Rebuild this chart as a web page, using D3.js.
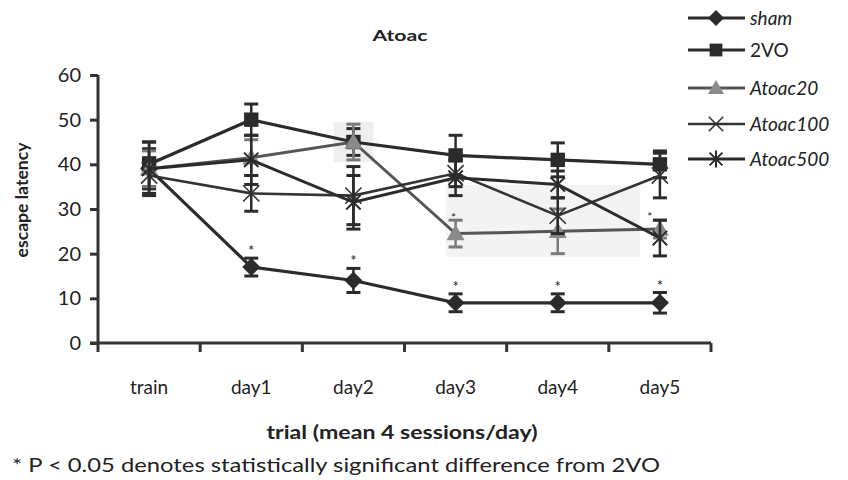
<!DOCTYPE html>
<html>
<head>
<meta charset="utf-8">
<script src="https://cdn.jsdelivr.net/npm/d3@7/dist/d3.min.js"></script>
<style>
  html, body { margin: 0; padding: 0; background: #fff; }
  svg { display: block; }
  text { font-family: "Comic Sans MS", "Lato", "DejaVu Sans", sans-serif; fill: #222; }
</style>
</head>
<body>
<svg id="chart" width="848" height="480"></svg>
<script>
// Trials on the x axis
const categories = ["train", "day1", "day2", "day3", "day4", "day5"];
const yTicks = [0, 10, 20, 30, 40, 50, 60];

// Mean escape latency per group, with error (half bar length)
const shamValues     = [39, 17, 14, 9, 9, 9];
const shamErrors     = [4.5, 2, 2.7, 2, 2, 2.3];
const vo2Values      = [40, 50, 45, 42, 41, 40];
const vo2Errors      = [5, 3.5, 3, 4.5, 3.8, 3];
const atoac20Values  = [39, 41.5, 45, 24.5, 25, 25.5];
const atoac20Errors  = [4, 4, 4, 3, 5, 2];
const atoac100Values = [37.5, 33.5, 33, 38, 28.5, 37.5];
const atoac100Errors = [4, 4, 6.5, 3, 4, 5];
const atoac500Values = [39, 41, 31.5, 37, 35.5, 23.5];
const atoac500Errors = [6, 5.5, 6, 4, 3, 4];

// Significance marks (sham vs 2VO), one per trial
const shamSignificant = [false, true, true, true, true, true];

const seriesNames = ["sham", "2VO", "Atoac20", "Atoac100", "Atoac500"];

const series = [
  { name: seriesNames[0], values: shamValues, errors: shamErrors, shape: "diamond", color: "#2b2b2b", line: "#2b2b2b", width: 3.2 },
  { name: seriesNames[1], values: vo2Values, errors: vo2Errors, shape: "square", color: "#2b2b2b", line: "#2b2b2b", width: 3.2 },
  { name: seriesNames[2], values: atoac20Values, errors: atoac20Errors, shape: "triangle", color: "#8a8a8a", line: "#555", width: 3 },
  { name: seriesNames[3], values: atoac100Values, errors: atoac100Errors, shape: "x", color: "#333", line: "#333", width: 2.6 },
  { name: seriesNames[4], values: atoac500Values, errors: atoac500Errors, shape: "asterisk", color: "#2b2b2b", line: "#2b2b2b", width: 3 }
];

const svg = d3.select("#chart");

const x = d3.scaleBand().domain(categories).range([98, 711]);
const y = d3.scaleLinear().domain([0, 60]).range([343, 75]);
const cx = c => x(c) + x.bandwidth() / 2;

// light shading behind parts of the plot
svg.append("rect").attr("x", cx("day3") - 10).attr("y", y(35.4))
  .attr("width", (cx("day5") - 20) - (cx("day3") - 10))
  .attr("height", y(19.3) - y(35.4)).attr("fill", "#f3f3f3");
svg.append("rect").attr("x", cx("day2") - 20).attr("y", y(49.5))
  .attr("width", 40).attr("height", y(40.5) - y(49.5)).attr("fill", "#eeeeee");

// y axis
const yAxis = d3.axisLeft(y).tickValues(yTicks).tickSize(8).tickPadding(9);
const gy = svg.append("g").attr("transform", "translate(98,0)").call(yAxis);
gy.select(".domain").attr("stroke", "#333").attr("stroke-width", 3).attr("d", `M0,${y(60)}V${y(0)}`);
gy.selectAll(".tick line").attr("stroke", "#333").attr("stroke-width", 3);
gy.selectAll(".tick text").attr("font-size", 20).attr("fill", "#333")
  .style("font-family", "'Comic Sans MS', Lato, sans-serif");

// x axis: ticks on band edges, labels at band centres
const edges = categories.map(c => x(c)).concat([x.range()[1]]);
const gx = svg.append("g");
gx.append("line").attr("x1", 90).attr("x2", 711).attr("y1", y(0)).attr("y2", y(0))
  .attr("stroke", "#333").attr("stroke-width", 3);
gx.selectAll("line.edge").data(edges).join("line").attr("class", "edge")
  .attr("x1", d => d).attr("x2", d => d).attr("y1", y(0)).attr("y2", y(0) + 9)
  .attr("stroke", "#333").attr("stroke-width", 3);
gx.selectAll("text.cat").data(categories).join("text").attr("class", "cat")
  .attr("x", d => cx(d)).attr("y", 394).attr("text-anchor", "middle")
  .attr("font-size", 19).attr("fill", "#333").text(d => d);

// titles
svg.append("text").attr("x", 400).attr("y", 41).attr("text-anchor", "middle")
  .attr("font-size", 16).attr("font-weight", "bold")
  .attr("textLength", 55).attr("lengthAdjust", "spacingAndGlyphs").text("Atoac");
svg.append("text").attr("transform", "translate(28,200) rotate(-90)")
  .attr("text-anchor", "middle").attr("font-size", 17).attr("font-weight", "bold")
  .attr("textLength", 115).attr("lengthAdjust", "spacingAndGlyphs").text("escape latency");
svg.append("text").attr("x", 402).attr("y", 439).attr("text-anchor", "middle")
  .attr("font-size", 18).attr("font-weight", "bold")
  .attr("textLength", 271).attr("lengthAdjust", "spacingAndGlyphs").text("trial (mean 4 sessions/day)");
svg.append("text").attr("x", 12).attr("y", 472).attr("font-size", 19)
  .attr("textLength", 648).attr("lengthAdjust", "spacingAndGlyphs")
  .text("* P < 0.05 denotes statistically significant difference from 2VO");

// marker shapes
function drawMarker(g, shape, color, px, py, s) {
  if (shape === "diamond") {
    g.append("path").attr("d", `M${px},${py - s}L${px + s},${py}L${px},${py + s}L${px - s},${py}Z`).attr("fill", color);
  } else if (shape === "square") {
    g.append("rect").attr("x", px - s * 0.8).attr("y", py - s * 0.8).attr("width", s * 1.6).attr("height", s * 1.6).attr("fill", color);
  } else if (shape === "triangle") {
    g.append("path").attr("d", `M${px},${py - s}L${px + s},${py + s * 0.75}L${px - s},${py + s * 0.75}Z`).attr("fill", color);
  } else if (shape === "x") {
    const d = s * 0.9;
    g.append("path").attr("d", `M${px - d},${py - d}L${px + d},${py + d}M${px - d},${py + d}L${px + d},${py - d}`)
      .attr("stroke", color).attr("stroke-width", 1.6).attr("fill", "none");
  } else if (shape === "asterisk") {
    const d = s * 0.8;
    g.append("path").attr("d", `M${px - d},${py - d}L${px + d},${py + d}M${px - d},${py + d}L${px + d},${py - d}M${px},${py - s * 1.05}L${px},${py + s * 1.05}`)
      .attr("stroke", color).attr("stroke-width", 2).attr("fill", "none");
  }
}

const plot = svg.append("g");
const lineGen = d3.line().x((d, i) => cx(categories[i])).y(d => y(d));

series.forEach(s => {
  const g = plot.append("g");
  g.append("path").datum(s.values).attr("d", lineGen).attr("fill", "none")
    .attr("stroke", s.line).attr("stroke-width", s.width);
  // error bars
  s.values.forEach((v, i) => {
    const px = cx(categories[i]);
    const top = y(v + s.errors[i]), bot = y(v - s.errors[i]);
    const eb = s.shape === "triangle" ? "#7a7a7a" : "#2b2b2b";
    g.append("line").attr("x1", px).attr("x2", px).attr("y1", top).attr("y2", bot).attr("stroke", eb).attr("stroke-width", 2.5);
    g.append("line").attr("x1", px - 7).attr("x2", px + 7).attr("y1", top).attr("y2", top).attr("stroke", eb).attr("stroke-width", 3);
    g.append("line").attr("x1", px - 7).attr("x2", px + 7).attr("y1", bot).attr("y2", bot).attr("stroke", eb).attr("stroke-width", 3);
  });
  s.values.forEach((v, i) => drawMarker(g, s.shape, s.color, cx(categories[i]), y(v), 9));
});

// significance stars above sham
plot.selectAll("text.sig").data(categories.filter((c, i) => shamSignificant[i])).join("text")
  .attr("class", "sig").attr("x", d => cx(d)).attr("y", d => y(shamValues[categories.indexOf(d)] + shamErrors[categories.indexOf(d)]) - 2)
  .attr("text-anchor", "middle").attr("font-size", 15).attr("font-family", "DejaVu Sans").text("*");
// smaller marks above treated groups
plot.append("text").attr("x", cx("day3") - 2).attr("y", y(atoac20Values[3] + atoac20Errors[3]) + 2)
  .attr("text-anchor", "middle").attr("font-size", 12).attr("font-family", "DejaVu Sans").attr("fill", "#888").text("*");
plot.append("text").attr("x", cx("day5") - 10).attr("y", y(atoac500Values[5] + atoac500Errors[5]) + 1)
  .attr("text-anchor", "middle").attr("font-size", 12).attr("font-family", "DejaVu Sans").text("*");

// legend
const legend = svg.append("g");
const legendY = [18, 50, 88, 124, 159];
series.forEach((s, i) => {
  const g = legend.append("g");
  const ly = legendY[i];
  g.append("line").attr("x1", 688).attr("x2", 745).attr("y1", ly).attr("y2", ly)
    .attr("stroke", s.line).attr("stroke-width", s.width);
  drawMarker(g, s.shape, s.color, 716, ly, 8);
  g.append("text").attr("x", 750).attr("y", ly + 7).attr("font-size", 19)
    .attr("font-style", i === 1 ? "normal" : "italic").text(s.name);
});
</script>
</body>
</html>
